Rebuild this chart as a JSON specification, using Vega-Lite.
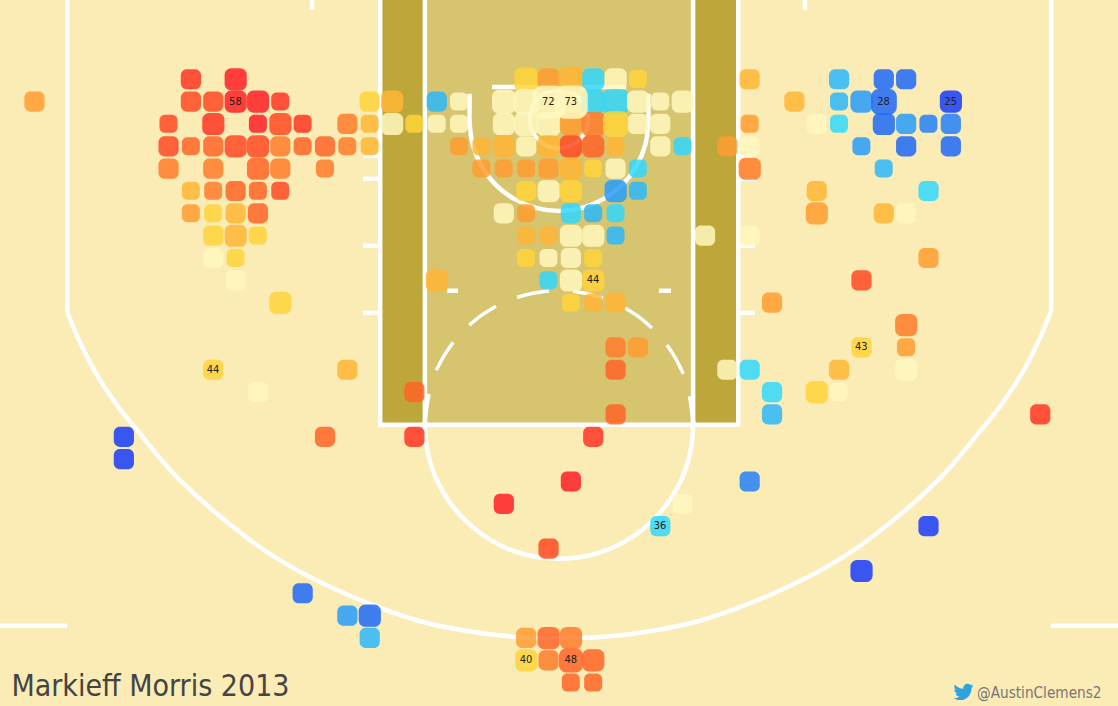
{"$schema":"https://vega.github.io/schema/vega-lite/v6.json","width":1118,"height":706,"autosize":"none","padding":0,"background":"#FBEBB5","config":{"view":{"stroke":null}},
"datasets":{
"zones":[{"x":-8,"x2":8,"y":0,"y2":19,"zone":"paint"},{"x":-8,"x2":-6,"y":0,"y2":19,"zone":"lane"},{"x":6,"x2":8,"y":0,"y2":19,"zone":"lane"}],
"lines":[
{"seg":"laneL1","i":0,"x":-8,"y":0},{"seg":"laneL1","i":1,"x":-8,"y":19},
{"seg":"laneL2","i":0,"x":-6,"y":0},{"seg":"laneL2","i":1,"x":-6,"y":19},
{"seg":"laneR2","i":0,"x":6,"y":0},{"seg":"laneR2","i":1,"x":6,"y":19},
{"seg":"laneR1","i":0,"x":8.02,"y":0},{"seg":"laneR1","i":1,"x":8.02,"y":19},
{"seg":"ftline","i":0,"x":-8.1,"y":19},{"seg":"ftline","i":1,"x":8.1,"y":19},
{"seg":"sideL","i":0,"x":-22,"y":0},{"seg":"sideL","i":1,"x":-22,"y":13.96},
{"seg":"sideR","i":0,"x":22.02,"y":0},{"seg":"sideR","i":1,"x":22.02,"y":13.96},
{"seg":"cornerL","i":0,"x":-25.01,"y":28},{"seg":"cornerL","i":1,"x":-22,"y":28},
{"seg":"cornerR","i":0,"x":22,"y":28},{"seg":"cornerR","i":1,"x":25.01,"y":28},
{"seg":"topL","i":0,"x":-11.05,"y":0},{"seg":"topL","i":1,"x":-11.05,"y":0.45},
{"seg":"topR","i":0,"x":11,"y":0},{"seg":"topR","i":1,"x":11,"y":0.45},
{"seg":"h1L","i":0,"x":-8.77,"y":6.98},{"seg":"h1L","i":1,"x":-8.1,"y":6.98},
{"seg":"h2L","i":0,"x":-8.77,"y":8},{"seg":"h2L","i":1,"x":-8.1,"y":8},
{"seg":"h3L","i":0,"x":-8.77,"y":11},{"seg":"h3L","i":1,"x":-8.1,"y":11},
{"seg":"h4L","i":0,"x":-8.77,"y":14},{"seg":"h4L","i":1,"x":-8.1,"y":14},
{"seg":"h1R","i":0,"x":8.1,"y":6.98},{"seg":"h1R","i":1,"x":8.77,"y":6.98},
{"seg":"h2R","i":0,"x":8.1,"y":8},{"seg":"h2R","i":1,"x":8.77,"y":8},
{"seg":"h3R","i":0,"x":8.1,"y":11},{"seg":"h3R","i":1,"x":8.77,"y":11},
{"seg":"h4R","i":0,"x":8.1,"y":14},{"seg":"h4R","i":1,"x":8.77,"y":14},
{"seg":"ftL","i":0,"x":-5,"y":13.01},{"seg":"ftL","i":1,"x":-4.52,"y":13.01},
{"seg":"ftR","i":0,"x":4.47,"y":13.01},{"seg":"ftR","i":1,"x":5.01,"y":13.01},
{"seg":"board","i":0,"x":-3,"y":3.89},{"seg":"board","i":1,"x":3,"y":3.89},
{"seg":"three","i":0,"x":-22,"y":13.96},{"seg":"three","i":1,"x":-21.52,"y":15.12},{"seg":"three","i":2,"x":-20.85,"y":16.47},{"seg":"three","i":3,"x":-19.78,"y":18.12},{"seg":"three","i":4,"x":-18.88,"y":19.24},{"seg":"three","i":5,"x":-17.05,"y":21.39},{"seg":"three","i":6,"x":-13.83,"y":24.16},{"seg":"three","i":7,"x":-11.9,"y":25.41},{"seg":"three","i":8,"x":-9.93,"y":26.4},{"seg":"three","i":9,"x":-8.01,"y":27.2},{"seg":"three","i":10,"x":-6.09,"y":27.83},{"seg":"three","i":11,"x":-4.12,"y":28.23},{"seg":"three","i":12,"x":-1.88,"y":28.5},{"seg":"three","i":13,"x":0,"y":28.55},{"seg":"three","i":14,"x":1.88,"y":28.5},{"seg":"three","i":15,"x":4.12,"y":28.23},{"seg":"three","i":16,"x":6.09,"y":27.83},{"seg":"three","i":17,"x":8.01,"y":27.2},{"seg":"three","i":18,"x":9.93,"y":26.4},{"seg":"three","i":19,"x":11.9,"y":25.41},{"seg":"three","i":20,"x":13.83,"y":24.16},{"seg":"three","i":21,"x":17.05,"y":21.39},{"seg":"three","i":22,"x":18.88,"y":19.24},{"seg":"three","i":23,"x":19.78,"y":18.12},{"seg":"three","i":24,"x":20.85,"y":16.47},{"seg":"three","i":25,"x":21.52,"y":15.12},{"seg":"three","i":26,"x":22,"y":13.96},
{"seg":"restricted","i":0,"x":-4,"y":4.2},{"seg":"restricted","i":1,"x":-4,"y":4.8},{"seg":"restricted","i":2,"x":-4,"y":5.44},{"seg":"restricted","i":3,"x":-3.86,"y":6.48},{"seg":"restricted","i":4,"x":-3.46,"y":7.44},{"seg":"restricted","i":5,"x":-2.83,"y":8.27},{"seg":"restricted","i":6,"x":-2,"y":8.9},{"seg":"restricted","i":7,"x":-1.04,"y":9.3},{"seg":"restricted","i":8,"x":0,"y":9.44},{"seg":"restricted","i":9,"x":1.04,"y":9.3},{"seg":"restricted","i":10,"x":2,"y":8.9},{"seg":"restricted","i":11,"x":2.83,"y":8.27},{"seg":"restricted","i":12,"x":3.46,"y":7.44},{"seg":"restricted","i":13,"x":3.86,"y":6.48},{"seg":"restricted","i":14,"x":4,"y":5.44},{"seg":"restricted","i":15,"x":4,"y":4.8},{"seg":"restricted","i":16,"x":4,"y":4.2},
{"seg":"ftcircle","i":0,"x":-5.84,"y":17.63},{"seg":"ftcircle","i":1,"x":-6,"y":19},{"seg":"ftcircle","i":2,"x":-5.8,"y":20.55},{"seg":"ftcircle","i":3,"x":-5.2,"y":22},{"seg":"ftcircle","i":4,"x":-4.24,"y":23.24},{"seg":"ftcircle","i":5,"x":-3,"y":24.2},{"seg":"ftcircle","i":6,"x":-1.55,"y":24.8},{"seg":"ftcircle","i":7,"x":0,"y":25},{"seg":"ftcircle","i":8,"x":1.55,"y":24.8},{"seg":"ftcircle","i":9,"x":3,"y":24.2},{"seg":"ftcircle","i":10,"x":4.24,"y":23.24},{"seg":"ftcircle","i":11,"x":5.2,"y":22},{"seg":"ftcircle","i":12,"x":5.8,"y":20.55},{"seg":"ftcircle","i":13,"x":6,"y":19},{"seg":"ftcircle","i":14,"x":5.86,"y":17.72}],
"dashes":[
{"seg":"A","i":0,"x":-5.49,"y":16.57},{"seg":"A","i":1,"x":-5.14,"y":15.91},{"seg":"A","i":2,"x":-4.73,"y":15.31},
{"seg":"B","i":0,"x":-4.02,"y":14.55},{"seg":"B","i":1,"x":-3.44,"y":14.09},{"seg":"B","i":2,"x":-2.82,"y":13.7},
{"seg":"C","i":0,"x":-1.87,"y":13.3},{"seg":"C","i":1,"x":-1.17,"y":13.12},{"seg":"C","i":2,"x":-0.45,"y":13.02},
{"seg":"D","i":0,"x":0.63,"y":13.03},{"seg":"D","i":1,"x":1.31,"y":13.15},{"seg":"D","i":2,"x":1.97,"y":13.33},
{"seg":"E","i":0,"x":2.95,"y":13.78},{"seg":"E","i":1,"x":3.59,"y":14.19},{"seg":"E","i":2,"x":4.16,"y":14.68},
{"seg":"F","i":0,"x":4.83,"y":15.44},{"seg":"F","i":1,"x":5.23,"y":16.06},{"seg":"F","i":2,"x":5.56,"y":16.73}],
"cells":[
{"x":-16.5,"y":3.5,"rating":14,"shots":2},{"x":-14.5,"y":3.5,"rating":15,"shots":3},{"x":-1.5,"y":3.5,"rating":8,"shots":4},{"x":-0.5,"y":3.5,"rating":10,"shots":3},{"x":0.5,"y":3.5,"rating":9,"shots":5},{"x":1.5,"y":3.5,"rating":6,"shots":3},{"x":2.5,"y":3.5,"rating":7,"shots":3},{"x":3.5,"y":3.5,"rating":8,"shots":1},{"x":8.5,"y":3.5,"rating":9,"shots":2},{"x":12.5,"y":3.5,"rating":5,"shots":2},{"x":14.5,"y":3.5,"rating":2,"shots":2},{"x":15.5,"y":3.5,"rating":2,"shots":2},
{"x":-23.5,"y":4.5,"rating":10,"shots":2},{"x":-16.5,"y":4.5,"rating":13,"shots":2},{"x":-15.5,"y":4.5,"rating":13,"shots":2},{"x":-14.5,"y":4.5,"rating":15,"shots":3,"pct":58},{"x":-13.5,"y":4.5,"rating":15,"shots":3},{"x":-12.5,"y":4.5,"rating":14,"shots":1},{"x":-8.5,"y":4.5,"rating":8,"shots":2},{"x":-7.5,"y":4.5,"rating":9,"shots":3},{"x":-5.5,"y":4.5,"rating":5,"shots":2},{"x":-4.5,"y":4.5,"rating":7,"shots":1},{"x":-2.5,"y":4.5,"rating":7,"shots":4},{"x":-1.5,"y":4.5,"rating":7,"shots":5},{"x":1.5,"y":4.5,"rating":6,"shots":4},{"x":2.5,"y":4.5,"rating":6,"shots":5},{"x":3.5,"y":4.5,"rating":7,"shots":3},{"x":4.5,"y":4.5,"rating":7,"shots":1},{"x":5.5,"y":4.5,"rating":7,"shots":3},{"x":10.5,"y":4.5,"rating":9,"shots":2},{"x":12.5,"y":4.5,"rating":5,"shots":1},{"x":13.5,"y":4.5,"rating":4,"shots":3},{"x":14.5,"y":4.5,"rating":2,"shots":5,"pct":28},{"x":17.5,"y":4.5,"rating":1,"shots":3,"pct":25},
{"x":-17.5,"y":5.5,"rating":13,"shots":1},{"x":-15.5,"y":5.5,"rating":14,"shots":3},{"x":-13.5,"y":5.5,"rating":15,"shots":1},{"x":-12.5,"y":5.5,"rating":13,"shots":3},{"x":-11.5,"y":5.5,"rating":14,"shots":1},{"x":-9.5,"y":5.5,"rating":11,"shots":2},{"x":-8.5,"y":5.5,"rating":9,"shots":1},{"x":-7.5,"y":5.5,"rating":7,"shots":3},{"x":-6.5,"y":5.5,"rating":8,"shots":1},{"x":-5.5,"y":5.5,"rating":7,"shots":1},{"x":-4.5,"y":5.5,"rating":7,"shots":1},{"x":-2.5,"y":5.5,"rating":7,"shots":3},{"x":-1.5,"y":5.5,"rating":7,"shots":4},{"x":-0.5,"y":5.5,"rating":7,"shots":4},{"x":0.5,"y":5.5,"rating":10,"shots":3},{"x":1.5,"y":5.5,"rating":11,"shots":4},{"x":2.5,"y":5.5,"rating":8,"shots":5},{"x":3.5,"y":5.5,"rating":7,"shots":2},{"x":4.5,"y":5.5,"rating":7,"shots":2},{"x":8.5,"y":5.5,"rating":10,"shots":1},{"x":11.5,"y":5.5,"rating":7,"shots":2},{"x":12.5,"y":5.5,"rating":6,"shots":1},{"x":14.5,"y":5.5,"rating":2,"shots":3},{"x":15.5,"y":5.5,"rating":4,"shots":2},{"x":16.5,"y":5.5,"rating":3,"shots":1},{"x":17.5,"y":5.5,"rating":3,"shots":2},
{"x":-17.5,"y":6.5,"rating":13,"shots":2},{"x":-16.5,"y":6.5,"rating":12,"shots":1},{"x":-15.5,"y":6.5,"rating":12,"shots":2},{"x":-14.5,"y":6.5,"rating":13,"shots":3},{"x":-13.5,"y":6.5,"rating":13,"shots":3},{"x":-12.5,"y":6.5,"rating":11,"shots":2},{"x":-11.5,"y":6.5,"rating":12,"shots":1},{"x":-10.5,"y":6.5,"rating":12,"shots":2},{"x":-9.5,"y":6.5,"rating":11,"shots":1},{"x":-8.5,"y":6.5,"rating":9,"shots":1},{"x":-4.5,"y":6.5,"rating":10,"shots":1},{"x":-3.5,"y":6.5,"rating":9,"shots":1},{"x":-2.5,"y":6.5,"rating":9,"shots":3},{"x":-1.5,"y":6.5,"rating":7,"shots":2},{"x":-0.5,"y":6.5,"rating":9,"shots":3},{"x":0.5,"y":6.5,"rating":13,"shots":3},{"x":1.5,"y":6.5,"rating":12,"shots":3},{"x":2.5,"y":6.5,"rating":9,"shots":1},{"x":4.5,"y":6.5,"rating":7,"shots":2},{"x":5.5,"y":6.5,"rating":6,"shots":1},{"x":8.5,"y":6.5,"rating":7,"shots":2},{"x":7.5,"y":6.5,"rating":10,"shots":2},{"x":13.5,"y":6.5,"rating":4,"shots":1},{"x":15.5,"y":6.5,"rating":2,"shots":2},{"x":17.5,"y":6.5,"rating":2,"shots":2},
{"x":-17.5,"y":7.5,"rating":11,"shots":2},{"x":-15.5,"y":7.5,"rating":11,"shots":2},{"x":-13.5,"y":7.5,"rating":12,"shots":3},{"x":-12.5,"y":7.5,"rating":11,"shots":2},{"x":-10.5,"y":7.5,"rating":11,"shots":1},{"x":-3.5,"y":7.5,"rating":10,"shots":1},{"x":-2.5,"y":7.5,"rating":10,"shots":1},{"x":-1.5,"y":7.5,"rating":10,"shots":1},{"x":-0.5,"y":7.5,"rating":10,"shots":2},{"x":0.5,"y":7.5,"rating":9,"shots":3},{"x":1.5,"y":7.5,"rating":8,"shots":1},{"x":2.5,"y":7.5,"rating":7,"shots":2},{"x":3.5,"y":7.5,"rating":6,"shots":1},{"x":8.5,"y":7.5,"rating":11,"shots":3},{"x":14.5,"y":7.5,"rating":5,"shots":1},
{"x":-16.5,"y":8.5,"rating":9,"shots":1},{"x":-15.5,"y":8.5,"rating":11,"shots":1},{"x":-14.5,"y":8.5,"rating":12,"shots":2},{"x":-13.5,"y":8.5,"rating":12,"shots":1},{"x":-12.5,"y":8.5,"rating":13,"shots":1},{"x":-1.5,"y":8.5,"rating":8,"shots":2},{"x":-0.5,"y":8.5,"rating":7,"shots":3},{"x":0.5,"y":8.5,"rating":8,"shots":3},{"x":2.5,"y":8.5,"rating":4,"shots":3},{"x":3.5,"y":8.5,"rating":5,"shots":1},{"x":11.5,"y":8.5,"rating":9,"shots":2},{"x":16.5,"y":8.5,"rating":6,"shots":2},
{"x":-16.5,"y":9.5,"rating":10,"shots":1},{"x":-15.5,"y":9.5,"rating":8,"shots":1},{"x":-14.5,"y":9.5,"rating":9,"shots":2},{"x":-13.5,"y":9.5,"rating":12,"shots":2},{"x":-2.5,"y":9.5,"rating":7,"shots":2},{"x":-1.5,"y":9.5,"rating":10,"shots":1},{"x":0.5,"y":9.5,"rating":6,"shots":2},{"x":1.5,"y":9.5,"rating":5,"shots":1},{"x":2.5,"y":9.5,"rating":6,"shots":1},{"x":11.5,"y":9.5,"rating":10,"shots":3},{"x":14.5,"y":9.5,"rating":9,"shots":2},{"x":15.5,"y":9.5,"rating":7,"shots":2},
{"x":-15.5,"y":10.5,"rating":8,"shots":2},{"x":-14.5,"y":10.5,"rating":9,"shots":3},{"x":-13.5,"y":10.5,"rating":8,"shots":1},{"x":-1.5,"y":10.5,"rating":9,"shots":1},{"x":-0.5,"y":10.5,"rating":9,"shots":1},{"x":0.5,"y":10.5,"rating":7,"shots":3},{"x":1.5,"y":10.5,"rating":7,"shots":3},{"x":2.5,"y":10.5,"rating":5,"shots":1},{"x":6.5,"y":10.5,"rating":7,"shots":2},{"x":8.5,"y":10.5,"rating":7,"shots":2},
{"x":-15.5,"y":11.5,"rating":7,"shots":2},{"x":-14.5,"y":11.5,"rating":8,"shots":1},{"x":-1.5,"y":11.5,"rating":8,"shots":1},{"x":-0.5,"y":11.5,"rating":7,"shots":1},{"x":0.5,"y":11.5,"rating":7,"shots":2},{"x":1.5,"y":11.5,"rating":8,"shots":1},{"x":16.5,"y":11.5,"rating":10,"shots":2},
{"x":-14.5,"y":12.5,"rating":7,"shots":2},{"x":-5.5,"y":12.5,"rating":9,"shots":3},{"x":-0.5,"y":12.5,"rating":6,"shots":1},{"x":0.5,"y":12.5,"rating":7,"shots":3},{"x":1.5,"y":12.5,"rating":8,"shots":3,"pct":44},{"x":13.5,"y":12.5,"rating":13,"shots":2},
{"x":-12.5,"y":13.5,"rating":8,"shots":3},{"x":0.5,"y":13.5,"rating":8,"shots":1},{"x":1.5,"y":13.5,"rating":9,"shots":1},{"x":2.5,"y":13.5,"rating":9,"shots":2},{"x":9.5,"y":13.5,"rating":10,"shots":2},
{"x":15.5,"y":14.5,"rating":11,"shots":3},
{"x":2.5,"y":15.5,"rating":11,"shots":2},{"x":3.5,"y":15.5,"rating":10,"shots":2},{"x":13.5,"y":15.5,"rating":8,"shots":2,"pct":43},{"x":15.5,"y":15.5,"rating":10,"shots":1},
{"x":-15.5,"y":16.5,"rating":8,"shots":2,"pct":44},{"x":-9.5,"y":16.5,"rating":9,"shots":2},{"x":2.5,"y":16.5,"rating":12,"shots":2},{"x":7.5,"y":16.5,"rating":7,"shots":2},{"x":8.5,"y":16.5,"rating":6,"shots":2},{"x":12.5,"y":16.5,"rating":9,"shots":2},{"x":15.5,"y":16.5,"rating":7,"shots":3},
{"x":-13.5,"y":17.5,"rating":7,"shots":2},{"x":-6.5,"y":17.5,"rating":12,"shots":2},{"x":9.5,"y":17.5,"rating":6,"shots":2},{"x":11.5,"y":17.5,"rating":8,"shots":3},{"x":12.5,"y":17.5,"rating":7,"shots":1},
{"x":2.5,"y":18.5,"rating":12,"shots":2},{"x":9.5,"y":18.5,"rating":5,"shots":2},{"x":21.5,"y":18.5,"rating":14,"shots":2},
{"x":-19.5,"y":19.5,"rating":1,"shots":2},{"x":-10.5,"y":19.5,"rating":12,"shots":2},{"x":-6.5,"y":19.5,"rating":14,"shots":2},{"x":1.5,"y":19.5,"rating":14,"shots":2},
{"x":-19.5,"y":20.5,"rating":1,"shots":2},
{"x":0.5,"y":21.5,"rating":15,"shots":2},{"x":8.5,"y":21.5,"rating":3,"shots":2},
{"x":-2.5,"y":22.5,"rating":15,"shots":2},{"x":5.5,"y":22.5,"rating":7,"shots":2},
{"x":4.5,"y":23.5,"rating":6,"shots":2,"pct":36},{"x":16.5,"y":23.5,"rating":1,"shots":2},
{"x":-0.5,"y":24.5,"rating":13,"shots":2},
{"x":13.5,"y":25.5,"rating":1,"shots":3},
{"x":-11.5,"y":26.5,"rating":2,"shots":2},
{"x":-9.5,"y":27.5,"rating":4,"shots":2},{"x":-8.5,"y":27.5,"rating":2,"shots":3},
{"x":-8.5,"y":28.5,"rating":5,"shots":2},{"x":-1.5,"y":28.5,"rating":10,"shots":2},{"x":-0.5,"y":28.5,"rating":12,"shots":3},{"x":0.5,"y":28.5,"rating":11,"shots":3},
{"x":-1.5,"y":29.5,"rating":8,"shots":3,"pct":40},{"x":-0.5,"y":29.5,"rating":11,"shots":2},{"x":1.5,"y":29.5,"rating":12,"shots":3},{"x":0.5,"y":29.5,"rating":12,"shots":4,"pct":48},
{"x":0.5,"y":30.5,"rating":12,"shots":1},{"x":1.5,"y":30.5,"rating":12,"shots":1},
{"x":-0.5,"y":4.5,"rating":7,"shots":10,"pct":72},{"x":0.5,"y":4.5,"rating":7,"shots":10,"pct":73}]
},
"encoding":{"x":{"field":"x","type":"quantitative","axis":null,"scale":{"domain":[-25.01,25.01],"nice":false,"zero":false}},"y":{"field":"y","type":"quantitative","axis":null,"scale":{"domain":[31.59,0],"nice":false,"zero":false}}},
"layer":[
{"data":{"name":"zones"},"transform":[{"filter":"datum.zone==='paint'"}],"mark":{"type":"rect","fill":"#D6C46F"},"encoding":{"x2":{"field":"x2"},"y2":{"field":"y2"}}},
{"data":{"name":"zones"},"transform":[{"filter":"datum.zone==='lane'"}],"mark":{"type":"rect","fill":"#BEA73A"},"encoding":{"x2":{"field":"x2"},"y2":{"field":"y2"}}},
{"data":{"values":[{"x":0,"y":5.32}]},"mark":{"type":"point","filled":false,"stroke":"#FFFFFF","strokeWidth":4,"size":3421,"opacity":1,"shape":"circle"}},
{"data":{"name":"lines"},"mark":{"type":"line","stroke":"#FFFFFF","strokeWidth":4.5,"interpolate":"catmull-rom","strokeCap":"butt"},"encoding":{"detail":{"field":"seg"},"order":{"field":"i","type":"quantitative"}}},
{"data":{"name":"dashes"},"mark":{"type":"line","stroke":"#FFFFFF","strokeWidth":3.5,"interpolate":"catmull-rom","strokeCap":"butt"},"encoding":{"detail":{"field":"seg"},"order":{"field":"i","type":"quantitative"}}},
{"data":{"name":"cells"},"mark":{"type":"point","filled":true,"opacity":0.85,"strokeWidth":0,"shape":"M-0.33,-0.9 L0.47,-0.9 C0.8,-0.9,1.07,-0.63,1.07,-0.3 L1.07,0.5 C1.07,0.83,0.8,1.1,0.47,1.1 L-0.33,1.1 C-0.66,1.1,-0.93,0.83,-0.93,0.5 L-0.93,-0.3 C-0.93,-0.63,-0.66,-0.9,-0.33,-0.9 Z"},"encoding":{"color":{"field":"rating","type":"ordinal","legend":null,"scale":{"domain":[1,2,3,4,5,6,7,8,9,10,11,12,13,14,15],"range":["#183CFA","#1D68F8","#2380F8","#279CFA","#2CB8FA","#30D8FD","#FFF8BE","#FFD43A","#FFB635","#FF9C30","#FF7C2C","#FF6427","#FF4A23","#FF3524","#FF1E24"]}},"size":{"field":"shots","type":"quantitative","legend":null,"scale":{"domain":[1,10],"range":[324,1080],"zero":false,"nice":false}}}},
{"data":{"name":"cells"},"transform":[{"filter":"isValid(datum.pct)"}],"mark":{"type":"text","font":"DejaVu Sans Condensed","fontSize":11,"fill":"#222222","align":"center","baseline":"middle","dx":0.5,"dy":1},"encoding":{"text":{"field":"pct","type":"nominal"}}},
{"data":{"values":[{"x":-24.5,"y":31.14,"label":"Markieff Morris 2013"}]},"mark":{"type":"text","font":"DejaVu Sans Condensed","fontSize":30,"fill":"#444444","align":"left","baseline":"alphabetic"},"encoding":{"text":{"field":"label"}}},
{"data":{"values":[{"x":18.7,"y":31.23,"label":"@AustinClemens2"}]},"mark":{"type":"text","font":"DejaVu Sans Condensed","fontSize":15.2,"fill":"#777777","align":"left","baseline":"alphabetic"},"encoding":{"text":{"field":"label"}}},
{"data":{"values":[{"x":18.1,"y":30.96}]},"mark":{"type":"point","filled":true,"fill":"#2FA3DF","opacity":1,"strokeWidth":0,"size":2.8,"shape":"M11.953,-7.43 l-2.825,.775 l2.163,-2.723 c-.951,.555,-2.005,.959,-3.127,1.184 c-.9,-.96,-2.18,-1.55,-3.6,-1.55 c-2.7,0,-4.9,2.2,-4.9,4.9 c0,.39,.04,.76,.12,1.13 C-4.31,-3.905,-7.933,-5.87,-10.36,-8.838 l-.666,2.475 c0,1.71,.87,3.213,2.188,4.096 l-2.228,-.616 v.06 c0,2.38,1.7,4.37,3.946,4.827 l-2.212,.085 c.63,1.96,2.45,3.38,4.604,3.417 c-1.69,1.32,-3.81,2.105,-6.102,2.105 c-.39,0,-.779,-.023,-1.17,-.067 c2.18,1.4,4.77,2.209,7.557,2.209 c9.053,0,13.998,-7.496,13.998,-13.985 c0,-.21,0,-.42,-.015,-.63 c.96,-.69,1.79,-1.56,2.46,-2.548 Z"}}
]}
